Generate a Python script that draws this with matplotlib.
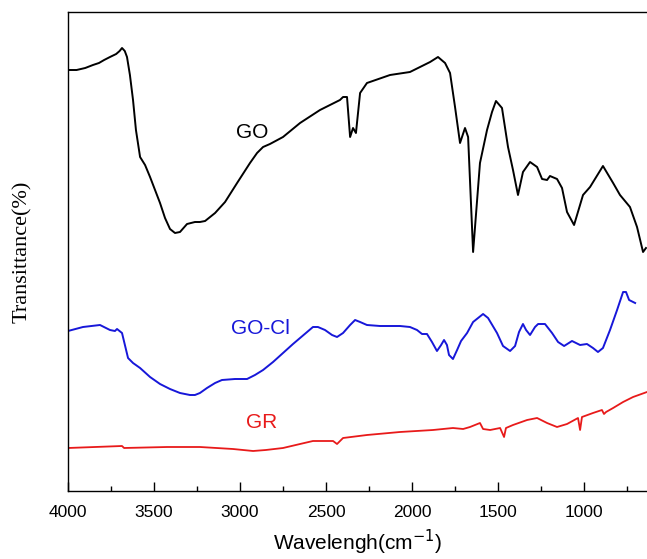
import matplotlib.pyplot as plt
from matplotlib.ticker import MultipleLocator

# GO spectrum (wavenumber, transmittance a.u.)
go_x = [4000, 3950, 3900, 3855, 3820, 3790, 3756, 3720, 3700, 3686, 3670, 3657, 3640, 3622,
        3605, 3581, 3552, 3523, 3494, 3465, 3436, 3407, 3378, 3349, 3308, 3262, 3233, 3203,
        3145, 3087, 3017, 2942, 2901, 2866, 2826, 2750, 2651, 2535, 2419, 2401, 2378, 2360,
        2343, 2326, 2302, 2262, 2128, 2012, 1895, 1849, 1808, 1779, 1750, 1721, 1692, 1674,
        1645, 1605, 1564, 1535, 1512, 1477, 1442, 1413, 1384, 1355, 1314, 1273, 1244, 1215,
        1198, 1157, 1128, 1099, 1058, 1006, 965, 890, 831, 791, 733, 692, 657, 640]
go_y = [421, 421, 423, 426, 428, 431, 434, 437, 440, 443, 440, 434, 416, 391,
        361, 334, 326, 314, 301, 288, 273, 262, 258, 259, 267, 269, 269, 270,
        278, 289, 308, 328, 338, 344, 347, 354, 368, 381, 391, 394, 394, 354,
        363, 358, 398, 408, 416, 419, 429, 434, 428, 418, 384, 348, 363, 354,
        239, 328, 361, 379, 390, 383, 344, 321, 296, 319, 329, 324, 312, 311,
        315, 312, 303, 279, 266, 296, 304, 325, 308, 296, 284, 264, 239, 243]

# GO-Cl spectrum
gocl_x = [4000, 3913, 3814, 3756, 3727, 3715, 3686, 3651, 3622, 3581, 3523, 3465, 3407, 3349,
          3291, 3262, 3233, 3192, 3145, 3105, 3029, 2959, 2913, 2866, 2808, 2750, 2692, 2651,
          2610, 2576, 2547, 2506, 2465, 2436, 2401, 2360, 2331, 2302, 2262, 2186, 2070, 2012,
          1971, 1942, 1913, 1884, 1855, 1831, 1814, 1797, 1785, 1762, 1738, 1715, 1680, 1645,
          1587, 1558, 1506, 1471, 1430, 1401, 1378, 1355, 1337, 1314, 1285, 1267, 1227, 1186,
          1151, 1116, 1070, 1023, 983, 948, 919, 890, 849, 808, 773, 756, 738, 703]
gocl_y = [160, 164, 166, 161, 160, 162, 158, 133, 128, 123, 114, 107, 102, 98,
          96, 96, 98, 103, 108, 111, 112, 112, 116, 121, 129, 138, 147, 153,
          159, 164, 164, 161, 156, 154, 158, 166, 171, 169, 166, 165, 165, 164,
          161, 157, 157, 149, 140, 146, 151, 146, 136, 132, 141, 150, 158, 169,
          177, 173, 158, 145, 140, 145, 159, 167, 161, 156, 164, 167, 167, 158,
          149, 145, 150, 146, 147, 143, 139, 143, 161, 181, 199, 199, 191, 188]

# GR spectrum
gr_x = [4000, 3686, 3674, 3424, 3233, 3041, 2924, 2850, 2750, 2651, 2576, 2459, 2436, 2401,
        2262, 2070, 1878, 1762, 1703, 1663, 1605, 1587, 1546, 1488, 1465, 1454, 1413, 1331,
        1273, 1215, 1157, 1099, 1035, 1023, 1012, 948, 896, 884, 872, 831, 773, 715, 634]
gr_y = [43, 45, 43, 44, 44, 42, 40, 41, 43, 47, 50, 50, 47, 53,
        56, 59, 61, 63, 62, 64, 68, 62, 61, 63, 54, 63, 66, 71,
        73, 68, 64, 67, 73, 61, 74, 78, 81, 77, 79, 83, 89, 94, 99]

fig = plt.figure(figsize=(6.47, 5.59), dpi=100)
ax = fig.add_axes([68 / 647, 1 - 491 / 559, 1 - 68 / 647, (491 - 12) / 559])

ax.plot(go_x, go_y, color='black', lw=1.4)
ax.plot(gocl_x, gocl_y, color='#1717d9', lw=1.4)
ax.plot(gr_x, gr_y, color='#e81a1a', lw=1.3)

ax.set_xlim(4000, 634)
ax.set_ylim(0, 479)

ax.text(2930, 359, 'GO', fontsize=15, family='Liberation Sans', ha='center', va='center')
ax.text(2884, 163, 'GO-Cl', fontsize=15, family='Liberation Sans', color='#1717d9',
        ha='center', va='center')
ax.text(2872, 68, 'GR', fontsize=15, family='Liberation Sans', color='#e81a1a',
        ha='center', va='center')

ax.xaxis.set_major_locator(MultipleLocator(500))
ax.xaxis.set_minor_locator(MultipleLocator(250))
ax.tick_params(axis='x', which='major', direction='in', length=6.5, width=1,
               labelsize=12.5, pad=10)
ax.tick_params(axis='x', which='minor', direction='in', length=3.5, width=1)
for lab in ax.get_xticklabels():
    lab.set_family('Liberation Sans')
ax.set_yticks([])
ax.spines['right'].set_visible(False)
for s in ['left', 'top', 'bottom']:
    ax.spines[s].set_linewidth(1.0)

ax.set_xlabel('Wavelengh(cm$^{-1}$)', fontsize=15, family='Liberation Sans', labelpad=6)
ax.set_ylabel('Transittance(%)', fontsize=16, family='Liberation Serif', labelpad=26)

fig.savefig('out.png', dpi=100)
